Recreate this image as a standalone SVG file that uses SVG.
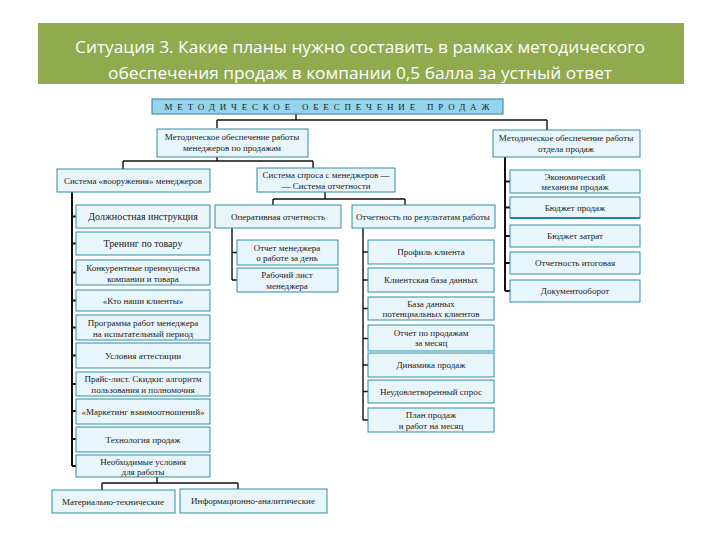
<svg xmlns="http://www.w3.org/2000/svg" width="720" height="540" viewBox="0 0 720 540">
<style>
.bx{fill:#e8f5fb;stroke:#2f8ea3;stroke-width:1}
.t{font-family:'Liberation Serif','DejaVu Serif','Times New Roman',serif;font-size:9px;fill:#222;text-anchor:middle}
.big{font-size:10px}
.c{fill:none;stroke:#111;stroke-width:1.4}
.sp{fill:none;stroke:#111;stroke-width:2}
.ti{font-family:'Open Sans','Liberation Sans',sans-serif;font-size:17px;fill:#ffffff;text-anchor:middle}
</style>
<rect width="720" height="540" fill="#ffffff"/>
<g id="title">
<rect x="38" y="23" width="646" height="61" fill="#8fab4d"/>
<text class="ti" x="360" y="53" textLength="570" lengthAdjust="spacingAndGlyphs">Ситуация 3. Какие планы нужно составить в рамках методического</text>
<text class="ti" x="360" y="79" textLength="504" lengthAdjust="spacingAndGlyphs">обеспечения продаж в компании 0,5 балла за устный ответ</text>
</g>
<g id="connectors">
<path class="c" d="M296 114V120M217 120H547M217 120V128M547 120V130"/>
<path class="c" d="M217 157V161M123 161H313M123 161V169M313 161V168"/>
<path class="c" d="M325 192V199M273 199H405M273 199V205M405 199V205"/>
<path class="sp" d="M72 192V466M72 216.5H76M72 243.5H76M72 272.5H76M72 300.5H76M72 327.5H76M72 355.5H76M72 384H76M72 411H76M72 439H76M72 466H76"/>
<path class="c" d="M157 477V483M102 483H238M102 483V490M238 483V489"/>
<path class="c" d="M232 228V280M232 252.5H237M232 280H237"/>
<path class="c" d="M363 228V420M363 252H368M363 280H368M363 308.5H368M363 338.5H368M363 365H368M363 391.5H368M363 420H368"/>
<path class="sp" d="M505 157V291M505 181.5H510M505 207.5H510M505 236H510M505 263H510M505 291H510"/>
</g>
<g id="n-top">
<rect x="152" y="99" width="351" height="15" fill="#94d4ec" stroke="#2f7f95" stroke-width="1"/>
<text class="t" x="327" y="109.5" font-size="8" textLength="325" lengthAdjust="spacing">МЕТОДИЧЕСКОЕ ОБЕСПЕЧЕНИЕ ПРОДАЖ</text>
</g>
<g id="n-mgr">
<rect class="bx" x="157" y="129" width="151" height="28"/>
<text class="t" x="232" y="140">Методическое обеспечение работы</text>
<text class="t" x="232" y="150.5">менеджеров по продажам</text>
</g>
<g id="n-dept">
<rect class="bx" x="493" y="130" width="147" height="27"/>
<text class="t" x="566" y="141">Методическое обеспечение работы</text>
<text class="t" x="566" y="151.5">отдела продаж</text>
</g>
<g id="n-arm">
<rect class="bx" x="57" y="169" width="153" height="23"/>
<text class="t" x="133" y="183.5">Система «вооружения» менеджеров</text>
</g>
<g id="n-ask">
<rect class="bx" x="257" y="168" width="138" height="24"/>
<text class="t" x="326" y="178">Система спроса с менеджеров —</text>
<text class="t" x="326" y="188.5">— Система отчетности</text>
</g>
<g id="n-l1"><rect class="bx" x="76" y="205" width="134" height="23"/><text class="t big" x="143" y="220">Должностная инструкция</text></g>
<g id="n-l2"><rect class="bx" x="76" y="232" width="134" height="23"/><text class="t big" x="143" y="247">Тренинг по товару</text></g>
<g id="n-l3"><rect class="bx" x="76" y="260" width="134" height="25"/><text class="t" x="143" y="271">Конкурентные преимущества</text><text class="t" x="143" y="281.5">компании и товара</text></g>
<g id="n-l4"><rect class="bx" x="76" y="290" width="134" height="21"/><text class="t" x="143" y="303.5">«Кто наши клиенты»</text></g>
<g id="n-l5"><rect class="bx" x="76" y="315" width="134" height="25"/><text class="t" x="143" y="326">Программа работ менеджера</text><text class="t" x="143" y="336.5">на испытательный период</text></g>
<g id="n-l6"><rect class="bx" x="76" y="343" width="134" height="25"/><text class="t" x="143" y="358.5">Условия аттестации</text></g>
<g id="n-l7"><rect class="bx" x="76" y="372" width="134" height="24"/><text class="t" x="143" y="382">Прайс-лист. Скидки: алгоритм</text><text class="t" x="143" y="392.5">пользования и полномочия</text></g>
<g id="n-l8"><rect class="bx" x="76" y="399" width="134" height="25"/><text class="t" x="143" y="414.5">«Маркетинг взаимоотношений»</text></g>
<g id="n-l9"><rect class="bx" x="76" y="427" width="134" height="25"/><text class="t" x="143" y="442.5">Технология продаж</text></g>
<g id="n-l10"><rect class="bx" x="76" y="455" width="134" height="22"/><text class="t" x="143" y="464.5">Необходимые условия</text><text class="t" x="143" y="474.5">для работы</text></g>
<g id="n-b1"><rect class="bx" x="52" y="490" width="123" height="23"/><text class="t" x="113" y="504.5">Материально-технические</text></g>
<g id="n-b2"><rect class="bx" x="180" y="489" width="147" height="24"/><text class="t" x="253" y="504">Информационно-аналитические</text></g>
<g id="n-op"><rect class="bx" x="215" y="205" width="126" height="23"/><text class="t" x="278" y="219.5">Оперативная отчетность</text></g>
<g id="n-res"><rect class="bx" x="352" y="205" width="143" height="23"/><text class="t" x="423" y="219.5">Отчетность по результатам работы</text></g>
<g id="n-o1"><rect class="bx" x="237" y="240" width="101" height="25"/><text class="t" x="287" y="250.5">Отчет менеджера</text><text class="t" x="287" y="261">о работе за день</text></g>
<g id="n-o2"><rect class="bx" x="237" y="268" width="101" height="24"/><text class="t" x="287" y="278">Рабочий лист</text><text class="t" x="287" y="288.5">менеджера</text></g>
<g id="n-r1"><rect class="bx" x="368" y="240" width="126" height="24"/><text class="t" x="431" y="255">Профиль клиента</text></g>
<g id="n-r2"><rect class="bx" x="368" y="268" width="126" height="24"/><text class="t" x="431" y="283">Клиентская база данных</text></g>
<g id="n-r3"><rect class="bx" x="368" y="297" width="126" height="23"/><text class="t" x="431" y="306.5">База данных</text><text class="t" x="431" y="316.5">потенциальных клиентов</text></g>
<g id="n-r4"><rect class="bx" x="368" y="325" width="126" height="26"/><text class="t" x="431" y="335.5">Отчет по продажам</text><text class="t" x="431" y="346">за месяц</text></g>
<g id="n-r5"><rect class="bx" x="368" y="353" width="126" height="24"/><text class="t" x="431" y="368">Динамика продаж</text></g>
<g id="n-r6"><rect class="bx" x="368" y="380" width="126" height="23"/><text class="t" x="431" y="394.5">Неудовлетворенный спрос</text></g>
<g id="n-r7"><rect class="bx" x="368" y="408" width="126" height="24"/><text class="t" x="431" y="418">План продаж</text><text class="t" x="431" y="428.5">и работ на месяц</text></g>
<g id="n-d1"><rect class="bx" x="510" y="170" width="130" height="23"/><text class="t" x="575" y="179.5">Экономический</text><text class="t" x="575" y="189.5">механизм продаж</text></g>
<g id="n-d2"><rect class="bx" x="510" y="197" width="130" height="21"/><line x1="510" y1="218" x2="640" y2="218" stroke="#1f8a9a" stroke-width="2"/><text class="t" x="575" y="210.5">Бюджет продаж</text></g>
<g id="n-d3"><rect class="bx" x="510" y="225" width="130" height="22"/><text class="t" x="575" y="239">Бюджет затрат</text></g>
<g id="n-d4"><rect class="bx" x="510" y="252" width="130" height="22"/><text class="t" x="575" y="266">Отчетность итоговая</text></g>
<g id="n-d5"><rect class="bx" x="510" y="280" width="130" height="22"/><text class="t" x="575" y="294">Документооборот</text></g>
</svg>
